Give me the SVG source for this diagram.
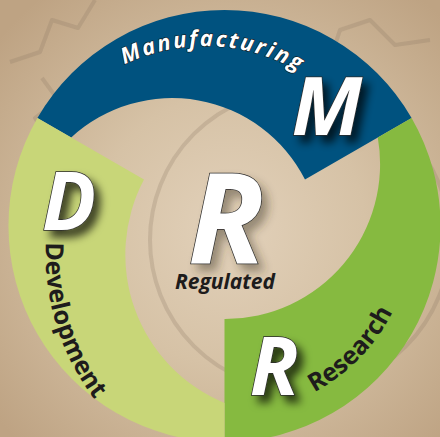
<svg xmlns="http://www.w3.org/2000/svg" width="440" height="437" viewBox="0 0 440 437">
  <defs>
    <radialGradient id="bg" cx="230" cy="230" r="300" gradientUnits="userSpaceOnUse">
      <stop offset="0" stop-color="#e2d1ba"/>
      <stop offset="0.45" stop-color="#d6c2a6"/>
      <stop offset="1" stop-color="#bea383"/>
    </radialGradient>
    <filter id="shadow" x="-30%" y="-30%" width="170%" height="170%">
      <feDropShadow dx="6" dy="7" stdDeviation="4.5" flood-color="#000" flood-opacity="0.7"/>
    </filter>
    <filter id="shadowLight" x="-30%" y="-30%" width="170%" height="170%">
      <feDropShadow dx="6" dy="7" stdDeviation="5" flood-color="#3a3028" flood-opacity="0.45"/>
    </filter>
    <path id="pathManu" d="M 99.5,79.3 A 184 184 0 0 1 323.3,89"/>
    <path id="pathDev" d="M 45.9,241.4 A 240 240 0 0 0 101.7,408.3"/>
    <path id="pathRes" d="M 313.2,392.9 A 189 189 0 0 0 402.1,290.6"/>
  </defs>
  <style>
    .big { font-family: "Open Sans", "Noto Sans", sans-serif; font-weight: 700; font-style: italic; fill: #ffffff; stroke: #2a2a2a; stroke-width: 1.4; paint-order: stroke; }
    .arcw { font-family: "Open Sans", "Noto Sans", sans-serif; font-weight: 700; font-style: italic; font-size: 22px; fill: #ffffff; stroke: #1a1a1a; stroke-width: 1.2; paint-order: stroke; letter-spacing: 2.2px; }
    .dark { font-family: "Open Sans", "Noto Sans", sans-serif; font-weight: 700; fill: #1e1c1c; }
    .gear { fill: none; stroke: #8a7862; stroke-opacity: 0.25; stroke-width: 4; stroke-linejoin: round; }
  </style>

  <rect x="0" y="0" width="440" height="437" fill="url(#bg)"/>
  <g id="background-gears">
    <path class="gear" d="M 10,62 L 40,52 L 52,20 L 78,28 L 95,0 M 30,165 L 55,150 L 35,118 L 58,100 L 42,78"/>
    <circle class="gear" cx="300" cy="240" r="150" stroke-width="3"/>
    <path class="gear" d="M 330,60 L 340,30 L 370,20 L 395,45 L 430,40"/>
  </g>

  <g id="segments">
    <g id="seg-manufacturing">
      <path d="M 37.4,118 A 216 216 0 0 1 411.6,118 L 305,179.5 A 149 149 0 0 0 71.2,137.5 Z" fill="#00527f"/>
    </g>
    <g id="seg-research">
      <path d="M 411.6,118 A 216 216 0 0 1 224.5,442 L 224.5,319 A 155 155 0 0 0 377.8,137.5 Z" fill="#86ba40"/>
    </g>
    <g id="seg-development">
      <path d="M 224.5,442 A 216 216 0 0 1 37.4,118 L 144,179.5 A 160.5 160.5 0 0 0 224.5,403 Z" fill="#c8d678"/>
    </g>
  </g>

  <g id="node-manufacturing">
    <text class="arcw"><textPath href="#pathManu" startOffset="50%" text-anchor="middle">Manufacturing</textPath></text>
    <text class="big" x="327" y="135" font-size="80" text-anchor="middle" filter="url(#shadow)">M</text>
  </g>
  <g id="node-development">
    <text class="big" x="69" y="230" font-size="80" text-anchor="middle" filter="url(#shadow)">D</text>
    <text class="dark" font-size="25"><textPath href="#pathDev" startOffset="1">Development</textPath></text>
  </g>
  <g id="node-research">
    <text class="big" x="274" y="395" font-size="80" text-anchor="middle" filter="url(#shadow)">R</text>
    <text class="dark" font-size="25"><textPath href="#pathRes" startOffset="1">Research</textPath></text>
  </g>
  <g id="node-regulated">
    <text class="big" x="226" y="263" font-size="126" text-anchor="middle" filter="url(#shadowLight)">R</text>
    <text class="dark" x="225" y="289" font-size="21" font-style="italic" text-anchor="middle">Regulated</text>
  </g>
</svg>
